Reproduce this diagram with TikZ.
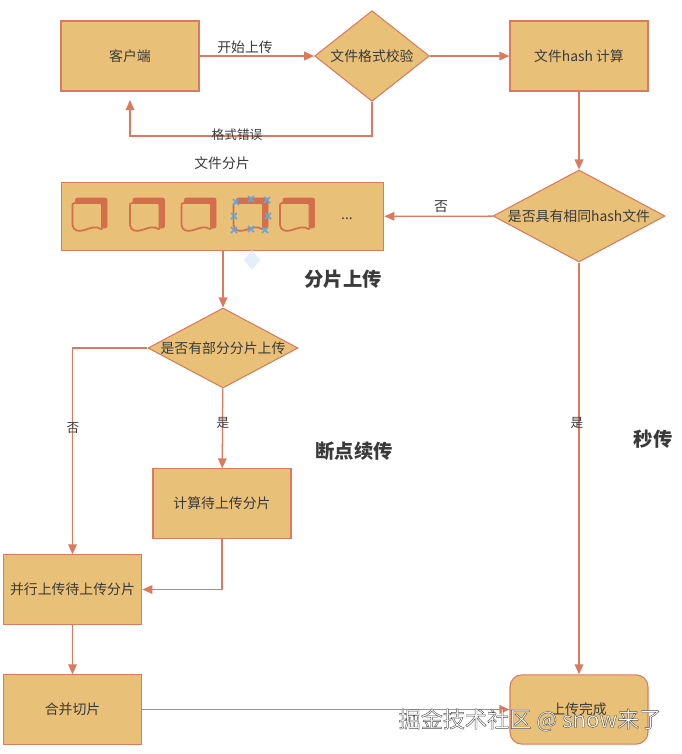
\documentclass[tikz,border=0pt]{standalone}
\usepackage{fontspec}
\setmainfont{Noto Sans CJK SC}
\usetikzlibrary{shapes.geometric,arrows.meta}
\definecolor{boxfill}{HTML}{E9C077}
\definecolor{boxline}{HTML}{DB7A5E}
\definecolor{sheetred}{HTML}{D46F4C}
\definecolor{labelgray}{HTML}{3A3A3A}
\definecolor{markblue}{HTML}{5FA8DC}
\definecolor{ghostblue}{HTML}{E4EFFB}
\tikzset{
	>={Triangle[length=7.5pt,width=6.5pt]},
	every node/.style={font=\fontsize{10.4}{12}\selectfont, text=labelgray},
	flowbox/.style={shape=rectangle, draw=boxline, fill=boxfill, line width=.8pt, inner sep=0pt},
	flowdiamond/.style={shape=diamond, draw=boxline, fill=boxfill, line width=.8pt, inner sep=-6pt},
	flowline/.style={->, color=boxline, line width=.95pt},
	bigtitle/.style={font=\fontsize{14.5}{17}\selectfont\bfseries},
	smalllabel/.style={font=\fontsize{9.5}{11}\selectfont},
	sheetback/.style={draw=sheetred, fill=sheetred, line width=.6pt, line join=round},
	sheetfront/.style={draw=sheetred, fill=boxfill, line width=1.3pt, line join=round},
	sheetstack/.pic={
		\draw[sheetback, rounded corners=1.5pt] (-14,-18) -- (17.5,-18) -- (17.5,12) -- (10,12) -- (10,-11) -- (-14,-11) -- cycle;
		\draw[sheetfront, rounded corners=1.5pt] (-17,-13) -- (-17,11) .. controls (-9,20) and (3,7) .. (12.5,14) -- (12.5,-13) -- cycle;
	},
}
\begin{document}
\begin{tikzpicture}[x=.75pt, y=-.75pt]
	\useasboundingbox (0,0) rectangle (682,754);

	\node[flowbox, minimum width=103.5pt, minimum height=52.5pt]                    (client) at (130,56)    {客户端};
	\node[flowdiamond, minimum width=86pt, minimum height=68pt, shape aspect=1.26]  (check)  at (372,56)    {文件格式校验};
	\node[flowbox, minimum width=103.5pt, minimum height=52.5pt]                    (hash)   at (579,56)    {文件hash 计算};
	\node[flowdiamond, minimum width=129pt, minimum height=69pt, shape aspect=1.87] (same)   at (579,216)   {是否具有相同hash文件};
	\node[flowbox, minimum width=242pt, minimum height=51pt]                        (slices) at (222.5,216.5) {};
	\node[flowdiamond, minimum width=112.5pt, minimum height=60pt, shape aspect=1.87] (part) at (223,348)   {是否有部分分片上传};
	\node[flowbox, minimum width=103.5pt, minimum height=52pt]                      (rest)   at (222,503.5) {计算待上传分片};
	\node[flowbox, minimum width=104pt, minimum height=52pt]                        (upload) at (72.5,589.5) {并行上传待上传分片};
	\node[flowbox, minimum width=104pt, minimum height=52pt]                        (merge)  at (72.5,709.5) {合并切片};
	\node[flowbox, rounded corners=9pt, minimum width=103.5pt, minimum height=52pt] (done)   at (579,709.5) {上传完成};

	% slices inside the wide box
	\foreach \x in {89.5,147,198.5,250.5,297}
		\pic at (\x,216) {sheetstack};
	\node (dots) at (347,219) {...};
	\foreach \x/\y in {236/202,251/199,267/200,268/216,265/230,251/229,234/230,234/216}
		\draw[markblue, line width=1.1pt] (\x-3,\y-3) -- (\x+3,\y+3) (\x-3,\y+3) -- (\x+3,\y-3);
	\fill[ghostblue] (252,250) -- (260,260) -- (252,270) -- (244,260) -- cycle;

	\coordinate (errend) at (130,100);
	\coordinate (errcorner) at (372,136);

	\path [flowline] (client) edge (check);
	\path [flowline] (check)  edge (hash);
	\path [flowline] (hash)   edge (same);
	\path [flowline] (same)   edge (slices);
	\path [flowline] (slices.south -| part.north) edge (part.north);
	\path [flowline] (part)   edge (rest);
	\path [flowline] (upload) edge (merge);
	\path [flowline] (merge)  edge (done);
	\path [flowline] (same)   edge (done);
	\draw [flowline] (check.south) -- (errcorner) -| (errend);
	\draw [flowline] (part.west) -| (upload.north);
	\draw [flowline] (rest.south) |- (upload.east);

	\node (start)   at (245,47)  {开始上传};
	\node[smalllabel] (wrong)   at (237,135) {格式错误};
	\node (split)   at (222,163) {文件分片};
	\node (no1)     at (441,207) {否};
	\node[smalllabel] (no2)     at (73,428)  {否};
	\node[smalllabel] (yes1)    at (223,423) {是};
	\node[smalllabel] (yes2)    at (577,423) {是};
	\node[bigtitle] (titlea) at (343,279) {分片上传};
	\node[bigtitle] (titleb) at (354,451) {断点续传};
	\node[bigtitle] (titlec) at (653,439) {秒传};

	\node[font=\fontsize{16.6}{19}\selectfont, text=white] (mark) at (530,720)
		{\special{pdf:code 2 Tr 0.3 w 0.3 G}掘金技术社区 @ snow来了\special{pdf:code 0 Tr}};
\end{tikzpicture}
\end{document}
